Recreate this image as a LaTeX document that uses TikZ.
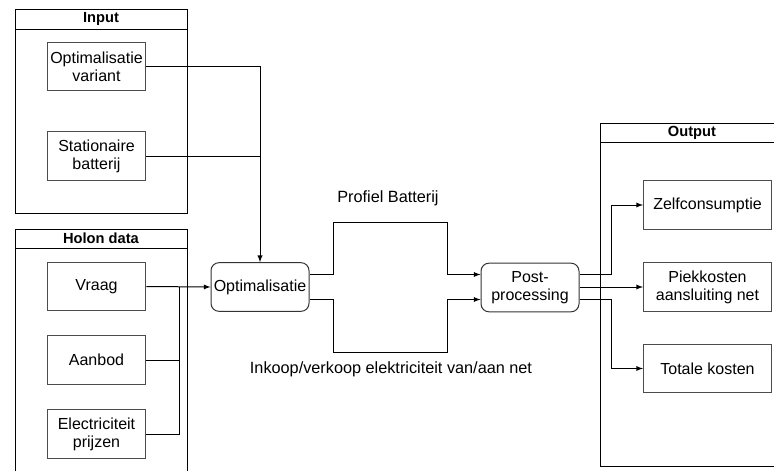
\documentclass[tikz,border=0pt]{standalone}
\usepackage{fontspec}
\setmainfont{Liberation Sans}
\usetikzlibrary{calc}
\begin{document}
\begin{tikzpicture}[x=0.75pt,y=-0.75pt,line width=0.75pt,
  box/.style={draw=black!70,minimum width=74pt,minimum height=36.5pt,align=center,inner sep=1pt,font=\fontsize{12}{13.5}\selectfont},
  rbox/.style={box,draw=black!80,rounded corners=6pt,minimum width=73.5pt},
  title/.style={font=\fontsize{11}{12}\selectfont\bfseries},
  lbl/.style={font=\fontsize{12.2}{13.5}\selectfont},
  arr/.style={-latex}]
\useasboundingbox (0,0) rectangle (774,471);
% groups
\draw (15,9) rectangle (187,213);
\draw (15,29) -- (187,29);
\node[title] (input) at (101,19) {Input};
\draw (15,471) -- (15,229) -- (187,229) -- (187,471);
\draw (15,248) -- (187,248);
\node[title] (holon) at (101,238.5) {Holon data};
\draw (774,123) -- (600,123) -- (600,466) -- (774,466);
\draw (600,142) -- (774,142);
\node[title] (output) at (692,132.5) {Output};
% boxes
\node[box] (variant) at (96.5,66.5) {Optimalisatie\\variant};
\node[box] (batterij) at (96.5,156) {Stationaire\\batterij};
\node[box] (vraag) at (96.5,286.5) {Vraag};
\node[box] (aanbod) at (96.5,360) {Aanbod};
\node[box] (prijzen) at (96.5,434) {Electriciteit\\prijzen};
\node[rbox] (opt) at (260,287) {Optimalisatie};
\node[rbox] (post) at (530,287.5) {Post-\\processing};
\node[box,minimum width=96pt] (zelf) at (707.5,205) {Zelfconsumptie};
\node[box,minimum width=96pt] (piek) at (707.5,287) {Piekkosten\\aansluiting net};
\node[box,minimum width=96pt] (totaal) at (707.5,368.5) {Totale kosten};
% lines
\coordinate (bus) at (179,286.5);
\coordinate (up1) at (333,222);
\coordinate (up2) at (447,222);
\coordinate (dn1) at (333,352);
\coordinate (dn2) at (447,352);
\coordinate (split) at (611,0);
\draw[arr] (variant.east) -| (opt.north);
\draw (batterij.east) -- (batterij.east -| opt.north);
\draw[arr] (vraag.east) -- (opt.west);
\draw (aanbod.east) -| (bus);
\draw (prijzen.east) -| (bus);
\draw[arr] ($(opt.east)+(0,-13)$) -| (up1) -- (up2) |- ($(post.west)+(0,-13)$);
\draw[arr] ($(opt.east)+(0,12)$) -| (dn1) -- (dn2) |- ($(post.west)+(0,12)$);
\node[lbl] (profiel) at (388,198) {Profiel Batterij};
\node[lbl] (inkoop) at (391,369) {Inkoop/verkoop elektriciteit van/aan net};
\draw[arr] ($(post.east)+(0,-13)$) -| (zelf.west -| split) -- (zelf.west);
\draw[arr] (post.east |- piek.west) -- (piek.west);
\draw[arr] ($(post.east)+(0,12)$) -| (totaal.west -| split) -- (totaal.west);
\end{tikzpicture}
\end{document}
